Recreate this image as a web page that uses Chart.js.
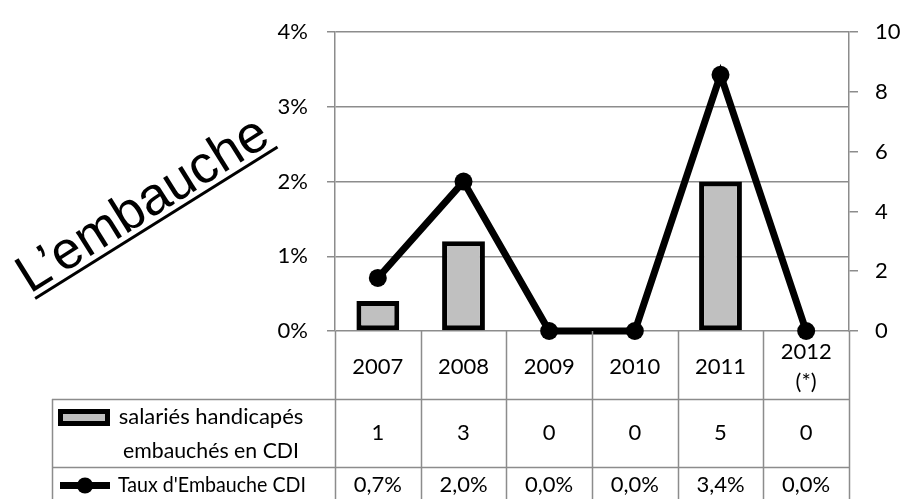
<!DOCTYPE html>
<html>
<head>
<meta charset="utf-8">
<script src="https://cdn.jsdelivr.net/npm/chart.js@4"></script>
<style>
  html, body { margin: 0; padding: 0; background: #fff; }
  #wrap { width: 903px; height: 499px; position: relative; }
</style>
</head>
<body>
<div id="wrap"><canvas id="embauche_chart"></canvas></div>
<script>
// data
const years = ['2007', '2008', '2009', '2010', '2011', ['2012', '(*)']];
const salaries = [1, 3, 0, 0, 5, 0];
const taux = [0.71, 2.0, 0, 0, 3.43, 0];
const leftTicks = [0, 1, 2, 3, 4];
const rightTicks = [0, 2, 4, 6, 8, 10];
const seriesNames = [['salariés handicapés', 'embauchés en CDI'], "Taux d'Embauche CDI"];
const titleText = 'L’embauche';

const FONT = 'Lato, "Open Sans", sans-serif';
const GRID = '#8c8c8c';

function fmtPct(v) {
    return v.toFixed(1).replace('.', ',') + '%';
}

// draws the data table under the plot + the rotated title
const tablePlugin = {
    id: 'dataTable',
    afterDraw(chart) {
        let ctx = chart.ctx;
        let area = chart.chartArea;
        let x = chart.scales.x;
        let n = years.length;
        let band = (area.right - area.left) / n;
        let rowTop = [area.bottom, area.bottom + 68, area.bottom + 136];
        let tableLeft = 52;
        let bottom = chart.height + 10;

        ctx.save();
        ctx.strokeStyle = GRID;
        ctx.lineWidth = 1.5;
        ctx.beginPath();
        // vertical lines in the value columns
        for (let i = 0; i <= n; i++) {
            let px = Math.round(area.left + i * band) + 0.5;
            ctx.moveTo(px, area.bottom);
            ctx.lineTo(px, bottom);
        }
        // legend column left edge
        ctx.moveTo(tableLeft + 0.5, rowTop[1]);
        ctx.lineTo(tableLeft + 0.5, bottom);
        // horizontal row lines
        ctx.moveTo(tableLeft, rowTop[1] + 0.5);
        ctx.lineTo(area.right, rowTop[1] + 0.5);
        ctx.moveTo(tableLeft, rowTop[2] + 0.5);
        ctx.lineTo(area.right, rowTop[2] + 0.5);
        ctx.stroke();

        ctx.fillStyle = '#000';
        ctx.font = '22px ' + FONT;
        ctx.textAlign = 'center';
        ctx.textBaseline = 'middle';
        years.forEach((label, i) => {
            let cx = x.getPixelForValue(i);
            if (Array.isArray(label)) {
                ctx.fillText(label[0], cx, rowTop[0] + 21);
                ctx.fillText(label[1], cx, rowTop[0] + 51);
            } else {
                ctx.fillText(label, cx, rowTop[0] + 36);
            }
            ctx.fillText(String(salaries[i]), cx, rowTop[1] + 34);
            ctx.fillText(fmtPct(taux[i]), cx, rowTop[2] + 18);
        });

        // legend keys
        let barDs = chart.data.datasets[1];
        ctx.fillStyle = '#000';
        ctx.fillRect(58, 409, 52, 17);
        ctx.fillStyle = barDs.backgroundColor;
        ctx.fillRect(63, 414, 42, 7);

        ctx.fillStyle = '#000';
        ctx.fillRect(60, rowTop[2] + 15, 50, 7);
        ctx.beginPath();
        ctx.arc(85, rowTop[2] + 18.5, 8, 0, Math.PI * 2);
        ctx.fill();

        ctx.fillText(seriesNames[0][0], 211, rowTop[1] + 18, 188);
        ctx.fillText(seriesNames[0][1], 211, rowTop[1] + 52, 176);
        ctx.textAlign = 'left';
        ctx.fillText(seriesNames[1], 118, rowTop[2] + 18, 188);

        // rotated underlined title
        ctx.translate(30, 294);
        ctx.rotate(-32 * Math.PI / 180);
        ctx.font = '53px "Liberation Sans", Arial, sans-serif';
        ctx.textAlign = 'left';
        ctx.textBaseline = 'alphabetic';
        ctx.fillText(titleText, 0, 0);
        let w = ctx.measureText(titleText).width;
        ctx.fillRect(2, 5, w, 3);
        ctx.restore();
    }
};

let ctx = document.getElementById('embauche_chart').getContext('2d');

let embaucheChart = new Chart(ctx, {
    type: 'bar',
    data: {
        labels: years,
        datasets: [
            {
                type: 'line',
                label: seriesNames[1],
                data: taux,
                yAxisID: 'y',
                borderColor: '#000',
                backgroundColor: '#000',
                borderWidth: 7,
                pointRadius: 9,
                pointHoverRadius: 9,
                pointBackgroundColor: '#000',
                pointBorderWidth: 0,
                tension: 0,
                clip: false,
                order: 0
            },
            {
                type: 'bar',
                label: seriesNames[0].join(' '),
                data: salaries,
                yAxisID: 'y1',
                backgroundColor: '#c0c0c0',
                borderColor: '#000',
                borderWidth: 5,
                borderSkipped: false,
                barPercentage: 0.5,
                categoryPercentage: 1.0,
                order: 1
            }
        ]
    },
    options: {
        responsive: true,
        maintainAspectRatio: false,
        animation: false,
        events: [],
        layout: {
            padding: { top: 27, bottom: 168, left: 0, right: 0 }
        },
        plugins: {
            legend: { display: false },
            tooltip: { enabled: false }
        },
        scales: {
            x: {
                display: false,
                offset: true
            },
            y: {
                position: 'left',
                min: 0,
                max: 4,
                afterBuildTicks: scale => { scale.ticks = leftTicks.map(v => ({ value: v })); },
                afterFit: scale => { scale.width = 335; },
                ticks: {
                    padding: 19,
                    color: '#000',
                    font: { family: FONT, size: 22 },
                    callback: v => v + '%'
                },
                grid: { color: GRID, lineWidth: 1.5, tickLength: 8 },
                border: { display: true, color: GRID, width: 1.5 }
            },
            y1: {
                position: 'right',
                min: 0,
                max: 10,
                afterBuildTicks: scale => { scale.ticks = rightTicks.map(v => ({ value: v })); },
                afterFit: scale => { scale.width = 54; },
                ticks: {
                    padding: 17,
                    color: '#000',
                    font: { family: FONT, size: 22 }
                },
                grid: { drawOnChartArea: false, color: GRID, lineWidth: 1.5, tickLength: 9 },
                border: { display: true, color: GRID, width: 1.5 }
            }
        }
    },
    plugins: [tablePlugin]
});
</script>
</body>
</html>
